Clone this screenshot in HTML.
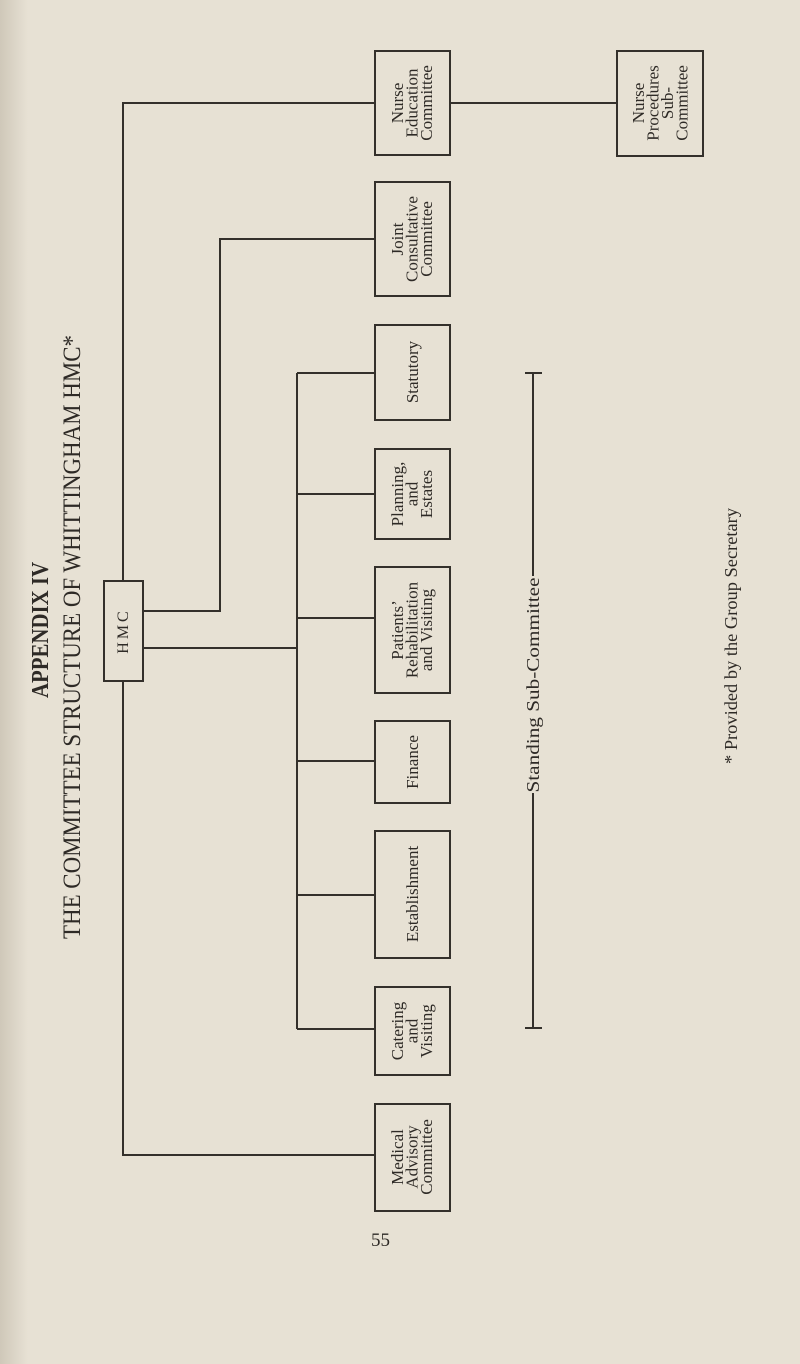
<!DOCTYPE html>
<html><head><meta charset="utf-8"><style>
html,body{margin:0;padding:0;background:#e7e1d4;}
svg{display:block;}
text{font-family:"Liberation Serif",serif;fill:#2e2a26;}
</style></head><body>
<svg width="800" height="1364" viewBox="0 0 800 1364" xmlns="http://www.w3.org/2000/svg">
<defs><linearGradient id="g" x1="0" x2="1" y1="0" y2="0"><stop offset="0" stop-color="#cfc8b9"/><stop offset="1" stop-color="#e7e1d4"/></linearGradient></defs>
<rect width="800" height="1364" fill="#e7e1d4"/>
<rect width="28" height="1364" fill="url(#g)"/>
<text transform="translate(48,630) rotate(-90)" text-anchor="middle" font-size="24" font-weight="bold" textLength="136" lengthAdjust="spacingAndGlyphs">APPENDIX IV</text>
<text transform="translate(80,637) rotate(-90)" text-anchor="middle" font-size="25" textLength="604" lengthAdjust="spacingAndGlyphs">THE COMMITTEE STRUCTURE OF WHITTINGHAM HMC*</text>
<g stroke="#34302b" stroke-width="2" fill="none">
<rect x="104" y="581" width="39" height="100"/>
<polyline points="123,581 123,103 375,103"/>
<polyline points="143,611 220,611 220,239 375,239"/>
<line x1="143" y1="648" x2="297" y2="648"/>
<line x1="297" y1="373" x2="297" y2="1029"/>
<line x1="297" y1="373" x2="375" y2="373"/>
<line x1="297" y1="494" x2="375" y2="494"/>
<line x1="297" y1="618" x2="375" y2="618"/>
<line x1="297" y1="761" x2="375" y2="761"/>
<line x1="297" y1="895" x2="375" y2="895"/>
<line x1="297" y1="1029" x2="375" y2="1029"/>
<polyline points="123,681 123,1155 375,1155"/>
<rect x="375" y="51" width="75" height="104"/>
<rect x="375" y="182" width="75" height="114"/>
<rect x="375" y="325" width="75" height="95"/>
<rect x="375" y="449" width="75" height="90"/>
<rect x="375" y="567" width="75" height="126"/>
<rect x="375" y="721" width="75" height="82"/>
<rect x="375" y="831" width="75" height="127"/>
<rect x="375" y="987" width="75" height="88"/>
<rect x="375" y="1104" width="75" height="107"/>
<line x1="450" y1="103" x2="617" y2="103"/>
<rect x="617" y="51" width="86" height="105"/>
<line x1="533" y1="373" x2="533" y2="576"/>
<line x1="533" y1="793" x2="533" y2="1028"/>
<line x1="525" y1="373" x2="542" y2="373"/>
<line x1="525" y1="1028" x2="542" y2="1028"/>
</g>
<text transform="translate(128,631) rotate(-90)" text-anchor="middle" font-size="16" letter-spacing="3">HMC</text>
<g font-size="17" text-anchor="middle">
<text transform="translate(412,103) rotate(-90)"><tspan x="0" y="-9">Nurse</tspan><tspan x="0" y="5.5">Education</tspan><tspan x="0" y="20">Committee</tspan></text>
<text transform="translate(412,239) rotate(-90)"><tspan x="0" y="-9">Joint</tspan><tspan x="0" y="5.5">Consultative</tspan><tspan x="0" y="20">Committee</tspan></text>
<text transform="translate(412,372) rotate(-90)"><tspan x="0" y="6">Statutory</tspan></text>
<text transform="translate(412,494) rotate(-90)"><tspan x="0" y="-9">Planning,</tspan><tspan x="0" y="5.5">and</tspan><tspan x="0" y="20">Estates</tspan></text>
<text transform="translate(412,630) rotate(-90)"><tspan x="0" y="-9">Patients’</tspan><tspan x="0" y="5.5">Rehabilitation</tspan><tspan x="0" y="20">and Visiting</tspan></text>
<text transform="translate(412,762) rotate(-90)"><tspan x="0" y="6">Finance</tspan></text>
<text transform="translate(412,894) rotate(-90)"><tspan x="0" y="6">Establishment</tspan></text>
<text transform="translate(412,1031) rotate(-90)"><tspan x="0" y="-9">Catering</tspan><tspan x="0" y="5.5">and</tspan><tspan x="0" y="20">Visiting</tspan></text>
<text transform="translate(412,1157) rotate(-90)"><tspan x="0" y="-9">Medical</tspan><tspan x="0" y="5.5">Advisory</tspan><tspan x="0" y="20">Committee</tspan></text>
<text transform="translate(660,103) rotate(-90)"><tspan x="0" y="-16">Nurse</tspan><tspan x="0" y="-1.5">Procedures</tspan><tspan x="0" y="13">Sub-</tspan><tspan x="0" y="27.5">Committee</tspan></text>
</g>
<text transform="translate(539,685) rotate(-90)" text-anchor="middle" font-size="18" textLength="215" lengthAdjust="spacingAndGlyphs">Standing Sub-Committee</text>
<text transform="translate(737,636) rotate(-90)" text-anchor="middle" font-size="18" textLength="256" lengthAdjust="spacingAndGlyphs">* Provided by the Group Secretary</text>
<text x="371" y="1246" font-size="19" fill="#3a3632">55</text>
</svg>
</body></html>
